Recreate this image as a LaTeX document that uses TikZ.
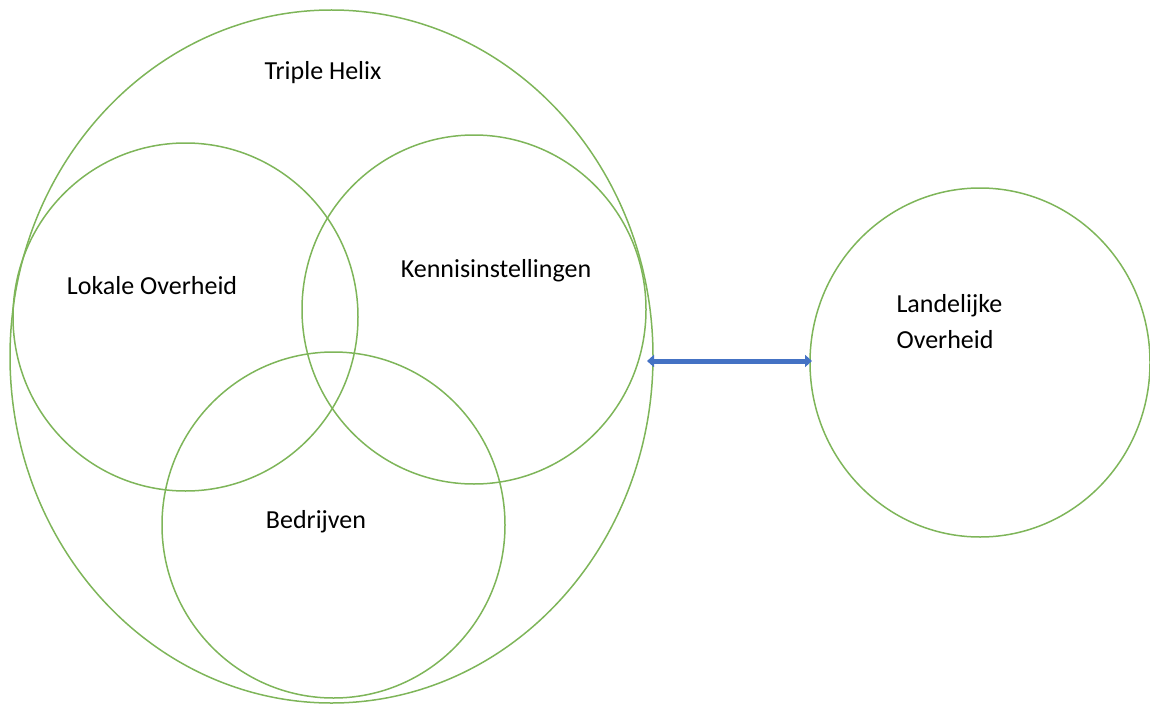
\documentclass[tikz,border=0pt]{standalone}
\usepackage{fontspec}
\setmainfont{Carlito}
\usepackage{xcolor}
\definecolor{helixgreen}{HTML}{70AD47}
\definecolor{linkblue}{HTML}{4472C4}
\usetikzlibrary{arrows.meta,positioning,shapes.geometric}

\begin{document}
\begin{tikzpicture}[x=1pt,y=-1pt,>=Latex]
\tikzset{
 ring/.style={draw=helixgreen!90,line width=1.5pt,ellipse,inner sep=0pt},
 lbl/.style={font=\fontsize{26}{36}\selectfont,align=left},
 link/.style={{Triangle[length=7pt,width=12pt]}-{Triangle[length=7pt,width=12pt]},draw=linkblue,line width=5pt}
}
\useasboundingbox (0,0) rectangle (1150,706);
% outer circle and the three actors
\node[ring,minimum width=643pt,minimum height=693pt] (helix) at (331.5,356.5) {};
\node[ring,minimum width=345pt,minimum height=348pt] (lokaal) at (185.5,317) {};
\node[ring,minimum width=344pt,minimum height=349pt] (kennis) at (474,309.5) {};
\node[ring,minimum width=343pt,minimum height=346pt] (bedrijf) at (333.5,525) {};
\node[ring,minimum width=340pt,minimum height=349pt] (land) at (980,362.5) {};
% labels
\node[lbl] (helixtxt) at (323,73) {Triple Helix};
\node[lbl] (lokaaltxt) at (152,286) {Lokale Overheid};
\node[lbl] (kennistxt) at (496,271) {Kennisinstellingen};
\node[lbl] (bedrijftxt) at (316,522) {Bedrijven};
\node[lbl,anchor=west] (landtxt) at (893,322) {Landelijke\\Overheid};
% link
\draw[link] (647,361) -- (812,361);
\end{tikzpicture}
\end{document}
